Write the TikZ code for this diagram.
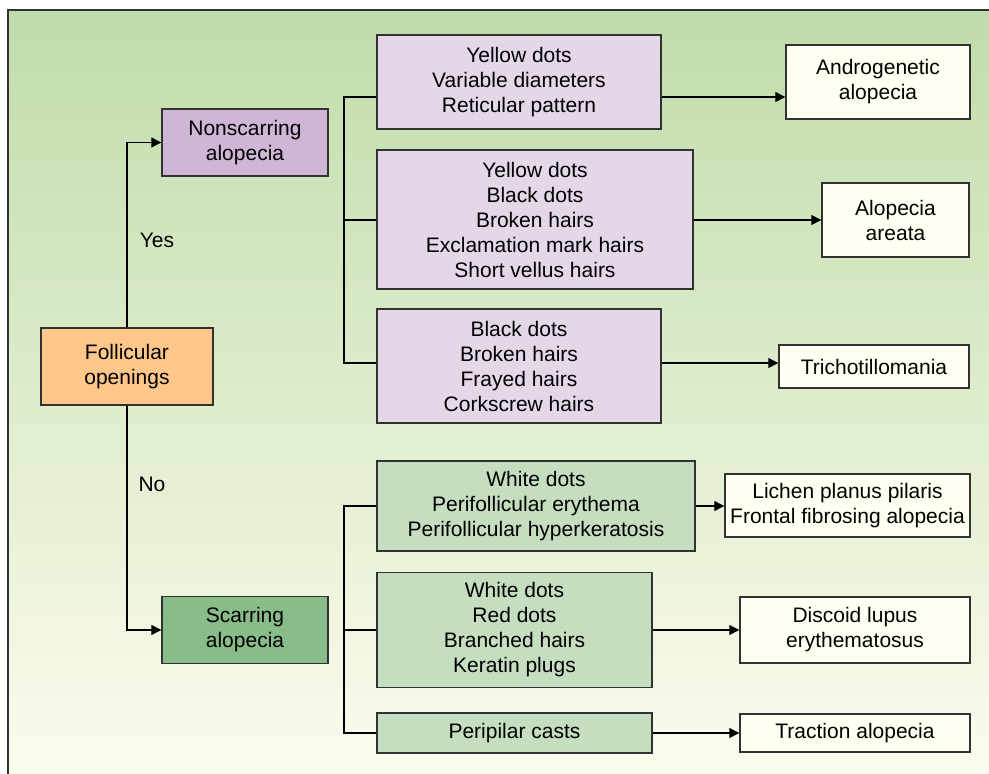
\documentclass[tikz,border=0pt]{standalone}
\usepackage{fontspec}
\setmainfont{Liberation Sans}
\usetikzlibrary{arrows.meta}
\usetikzlibrary{calc}

\definecolor{bgtop}{RGB}{192,220,170}
\definecolor{bgbot}{RGB}{252,252,238}
\definecolor{lilac}{RGB}{227,215,232}
\definecolor{mauve}{RGB}{208,182,214}
\definecolor{peach}{RGB}{255,200,138}
\definecolor{sage}{RGB}{136,189,138}
\definecolor{mint}{RGB}{198,222,192}
\definecolor{cream}{RGB}{255,255,242}
\definecolor{edge}{RGB}{50,50,50}

\begin{document}
\begin{tikzpicture}[x=1pt,y=-1pt,
	box/.style={draw=edge,line width=1.4pt,inner sep=0pt,align=center,
		font=\fontsize{21}{25}\selectfont},
	link/.style={line width=1.2pt,draw=black},
	tip/.style={link,-{Triangle[length=10pt,width=10pt]}}]
	\useasboundingbox (0,0) rectangle (989,774);
	\shade[top color=bgtop,bottom color=bgbot] (8,10) rectangle (989,774);
	\draw[edge,line width=1.2pt] (8,774) -- (8,10) -- (989,10);

	% start and the two groups
	\node[box,fill=peach,minimum width=172pt,minimum height=77pt] (fol) at (127,366.5) {Follicular\\openings};
	\node[box,fill=mauve,minimum width=166pt,minimum height=67pt] (nons) at (245,142.5) {Nonscarring\\alopecia};
	\node[box,fill=sage,minimum width=166pt,minimum height=67pt] (scar) at (245,630) {Scarring\\alopecia};
	\draw[tip] (fol.north) |- (nons.west);
	\draw[tip] (fol.south) |- (scar.west);
	\node[font=\fontsize{21}{25}\selectfont] (yes) at (157,240) {Yes};
	\node[font=\fontsize{21}{25}\selectfont] (no) at (152,484) {No};

	% findings, nonscarring
	\node[box,fill=lilac,minimum width=284pt,minimum height=94pt] (yd) at (519,82) {Yellow dots\\Variable diameters\\Reticular pattern};
	\node[box,fill=lilac,minimum width=316pt,minimum height=139pt] (aa) at (535,219.5) {Yellow dots\\Black dots\\Broken hairs\\Exclamation mark hairs\\Short vellus hairs};
	\node[box,fill=lilac,minimum width=284pt,minimum height=114pt] (tt) at (519,366) {Black dots\\Broken hairs\\Frayed hairs\\Corkscrew hairs};

	% findings, scarring
	\node[box,fill=mint,minimum width=318pt,minimum height=90pt] (wd) at (536,506) {White dots\\Perifollicular erythema\\Perifollicular hyperkeratosis};
	\node[box,fill=mint,minimum width=275pt,minimum height=115pt] (rd) at (514.5,630) {White dots\\Red dots\\Branched hairs\\Keratin plugs};
	\node[box,fill=mint,minimum width=275pt,minimum height=40pt] (pc) at (514.5,733) {Peripilar casts};

	% diagnoses
	\node[box,fill=cream,minimum width=184pt,minimum height=74pt] (andro) at (878,82) {Androgenetic\\alopecia};
	\node[box,fill=cream,minimum width=147pt,minimum height=74pt] (areata) at (895.5,220) {Alopecia\\areata};
	\node[box,fill=cream,minimum width=190pt,minimum height=43pt] (tricho) at (874,366.5) {Trichotillomania};
	\node[box,fill=cream,minimum width=245pt,minimum height=63pt] (lpp) at (847.5,505.5) {Lichen planus pilaris\\Frontal fibrosing alopecia};
	\node[box,fill=cream,minimum width=230pt,minimum height=66pt] (dle) at (855,630) {Discoid lupus\\erythematosus};
	\node[box,fill=cream,minimum width=230pt,minimum height=38pt] (trac) at (855,733) {Traction alopecia};

	% buses
	\coordinate (j1) at (344,97);
	\coordinate (j2) at (344,220);
	\coordinate (j3) at (344,363);
	\coordinate (j4) at (344,506);
	\coordinate (j5) at (344,630);
	\coordinate (j6) at (344,733);
	\draw[link] (yd.west |- j1) -- (j1) -- (j3) -- (tt.west |- j3);
	\draw[link] (j2) -- (aa.west |- j2);
	\draw[link] (wd.west |- j4) -- (j4) -- (j6) -- (pc.west |- j6);
	\draw[link] (j5) -- (rd.west |- j5);

	\draw[tip] (yd.east |- j1) -- (andro.west |- j1);
	\draw[tip] (aa.east |- j2) -- (areata.west |- j2);
	\draw[tip] (tt.east |- j3) -- (tricho.west |- j3);
	\draw[tip] (wd.east |- j4) -- (lpp.west |- j4);
	\draw[tip] (rd.east |- j5) -- (dle.west |- j5);
	\draw[tip] (pc.east |- j6) -- (trac.west |- j6);
\end{tikzpicture}
\end{document}
